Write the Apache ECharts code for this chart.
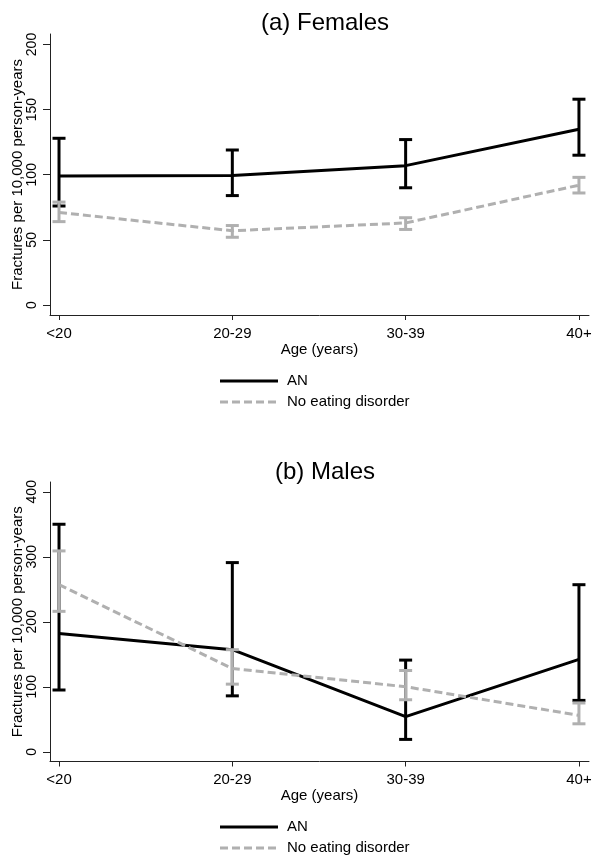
<!DOCTYPE html>
<html>
<head>
<meta charset="utf-8">
<script src="https://cdn.jsdelivr.net/npm/echarts@6/dist/echarts.min.js"></script>
<style>html,body{margin:0;padding:0;background:#fff;}#chart{width:602px;height:865px;}</style>
</head>
<body>
<div id="chart"></div>
<script>
// ---- Data ----
const categories = ['<20', '20-29', '30-39', '40+'];
const seriesNames = ['AN', 'No eating disorder'];

// (a) Females
const femAN = [99, 99.5, 107, 135];
const femANLow = [76, 84, 90, 115];
const femANHigh = [128, 119, 127, 158];
const femNo = [71, 57, 63, 92];
const femNoLow = [64, 52, 58, 86];
const femNoHigh = [79, 61, 67, 98];

// (b) Males
const maleAN = [182, 157, 54, 142];
const maleANLow = [95, 86, 19, 79];
const maleANHigh = [350, 291, 141, 257];
const maleNo = [257, 128, 100, 56];
const maleNoLow = [216, 104, 80, 43];
const maleNoHigh = [309, 157, 125, 75];

const yTicksF = [0, 50, 100, 150, 200];
const yTicksM = [0, 100, 200, 300, 400];
const xTicks = [0, 1, 2, 3];

// ---- Styling ----
const FONT = '"Liberation Sans", Arial, sans-serif';
const BLACK = '#000000';
const GREY = '#b0b0b0';
const AXIS = '#222222';
const DASH = [8, 4];

function pts(vals) { return vals.map((v, i) => [i, v]); }
function errData(lo, hi) { return lo.map((l, i) => [i, l, hi[i]]); }

function errSeries(name, lo, hi, color, idx, z) {
  return {
    type: 'custom', name: name, xAxisIndex: idx, yAxisIndex: idx, z: z,
    data: errData(lo, hi), silent: true,
    renderItem: function (params, api) {
      const x = api.value(0);
      const a = api.coord([x, api.value(1)]);
      const b = api.coord([x, api.value(2)]);
      const hw = 6.5;
      const st = { stroke: color, lineWidth: 3, fill: null };
      return {
        type: 'group',
        children: [
          { type: 'line', shape: { x1: a[0], y1: a[1], x2: b[0], y2: b[1] }, style: st },
          { type: 'line', shape: { x1: a[0] - hw, y1: a[1], x2: a[0] + hw, y2: a[1] }, style: st },
          { type: 'line', shape: { x1: b[0] - hw, y1: b[1], x2: b[0] + hw, y2: b[1] }, style: st }
        ]
      };
    }
  };
}

function lineSeries(name, vals, color, dashed, idx, z) {
  return {
    type: 'line', name: name, xAxisIndex: idx, yAxisIndex: idx, z: z,
    data: pts(vals), symbol: 'none', silent: true,
    lineStyle: { color: color, width: 3, type: dashed ? DASH : 'solid' },
    itemStyle: { color: color }
  };
}

function xAxisCfg(idx) {
  return {
    type: 'value', gridIndex: idx, min: -0.052, max: 3.058,
    splitLine: { show: false },
    axisLine: { show: true, onZero: false, lineStyle: { color: AXIS, width: 1 } },
    axisTick: { show: true, length: 5, customValues: xTicks, lineStyle: { color: AXIS } },
    axisLabel: {
      customValues: xTicks, margin: 11, color: '#000', fontSize: 15, fontFamily: FONT,
      formatter: function (v) { return categories[Math.round(v)]; }
    },
    name: 'Age (years)', nameLocation: 'middle', nameGap: 27, nameMoveOverlap: false,
    nameTextStyle: { color: '#000', fontSize: 15, fontFamily: FONT }
  };
}

function yAxisCfg(idx, min, max, ticks) {
  return {
    type: 'value', gridIndex: idx, min: min, max: max,
    splitLine: { show: false },
    axisLine: { show: true, onZero: false, lineStyle: { color: AXIS, width: 1 } },
    axisTick: { show: true, length: 7, customValues: ticks, lineStyle: { color: AXIS } },
    axisLabel: {
      customValues: ticks, rotate: 90, margin: 11, color: '#000', fontSize: 14, fontFamily: FONT
    },
    name: 'Fractures per 10,000 person-years', nameLocation: 'middle', nameGap: 25, nameRotate: 90,
    nameMoveOverlap: false,
    nameTextStyle: { color: '#000', fontSize: 15, fontFamily: FONT }
  };
}

function legendGraphics(yTop) {
  const items = [];
  const rows = [
    { name: seriesNames[0], color: BLACK, dash: null },
    { name: seriesNames[1], color: GREY, dash: DASH }
  ];
  rows.forEach(function (r, i) {
    const y = yTop + i * 21;
    items.push({
      type: 'line', silent: true,
      shape: { x1: 220, y1: y, x2: 278, y2: y },
      style: { stroke: r.color, lineWidth: 3, lineDash: r.dash }
    });
    items.push({
      type: 'text', silent: true, x: 287, y: y,
      style: { text: r.name, fill: '#000', font: '15px ' + FONT, verticalAlign: 'middle', align: 'left' }
    });
  });
  return items;
}

const chart = echarts.init(document.getElementById('chart'), null, { renderer: 'canvas' });
chart.setOption({
  backgroundColor: '#ffffff',
  animation: false,
  title: [
    { text: '(a) Females', left: 320, top: 6, textAlign: 'center',
      textStyle: { fontSize: 24, fontWeight: 'normal', color: '#000', fontFamily: FONT } },
    { text: '(b) Males', left: 320, top: 455, textAlign: 'center',
      textStyle: { fontSize: 24, fontWeight: 'normal', color: '#000', fontFamily: FONT } }
  ],
  grid: [
    { left: 50, right: 13, top: 34, height: 281, containLabel: false, outerBoundsMode: 'none' },
    { left: 50, right: 13, top: 482, height: 279.5, containLabel: false, outerBoundsMode: 'none' }
  ],
  xAxis: [xAxisCfg(0), xAxisCfg(1)],
  yAxis: [yAxisCfg(0, -7.68, 208.06, yTicksF), yAxisCfg(1, -15, 415, yTicksM)],
  graphic: legendGraphics(381).concat(legendGraphics(827)),
  series: [
    lineSeries('AN', femAN, BLACK, false, 0, 2),
    errSeries('AN', femANLow, femANHigh, BLACK, 0, 3),
    lineSeries('No eating disorder', femNo, GREY, true, 0, 4),
    errSeries('No eating disorder', femNoLow, femNoHigh, GREY, 0, 5),
    lineSeries('AN', maleAN, BLACK, false, 1, 2),
    errSeries('AN', maleANLow, maleANHigh, BLACK, 1, 3),
    lineSeries('No eating disorder', maleNo, GREY, true, 1, 4),
    errSeries('No eating disorder', maleNoLow, maleNoHigh, GREY, 1, 5)
  ]
});
</script>
</body>
</html>
